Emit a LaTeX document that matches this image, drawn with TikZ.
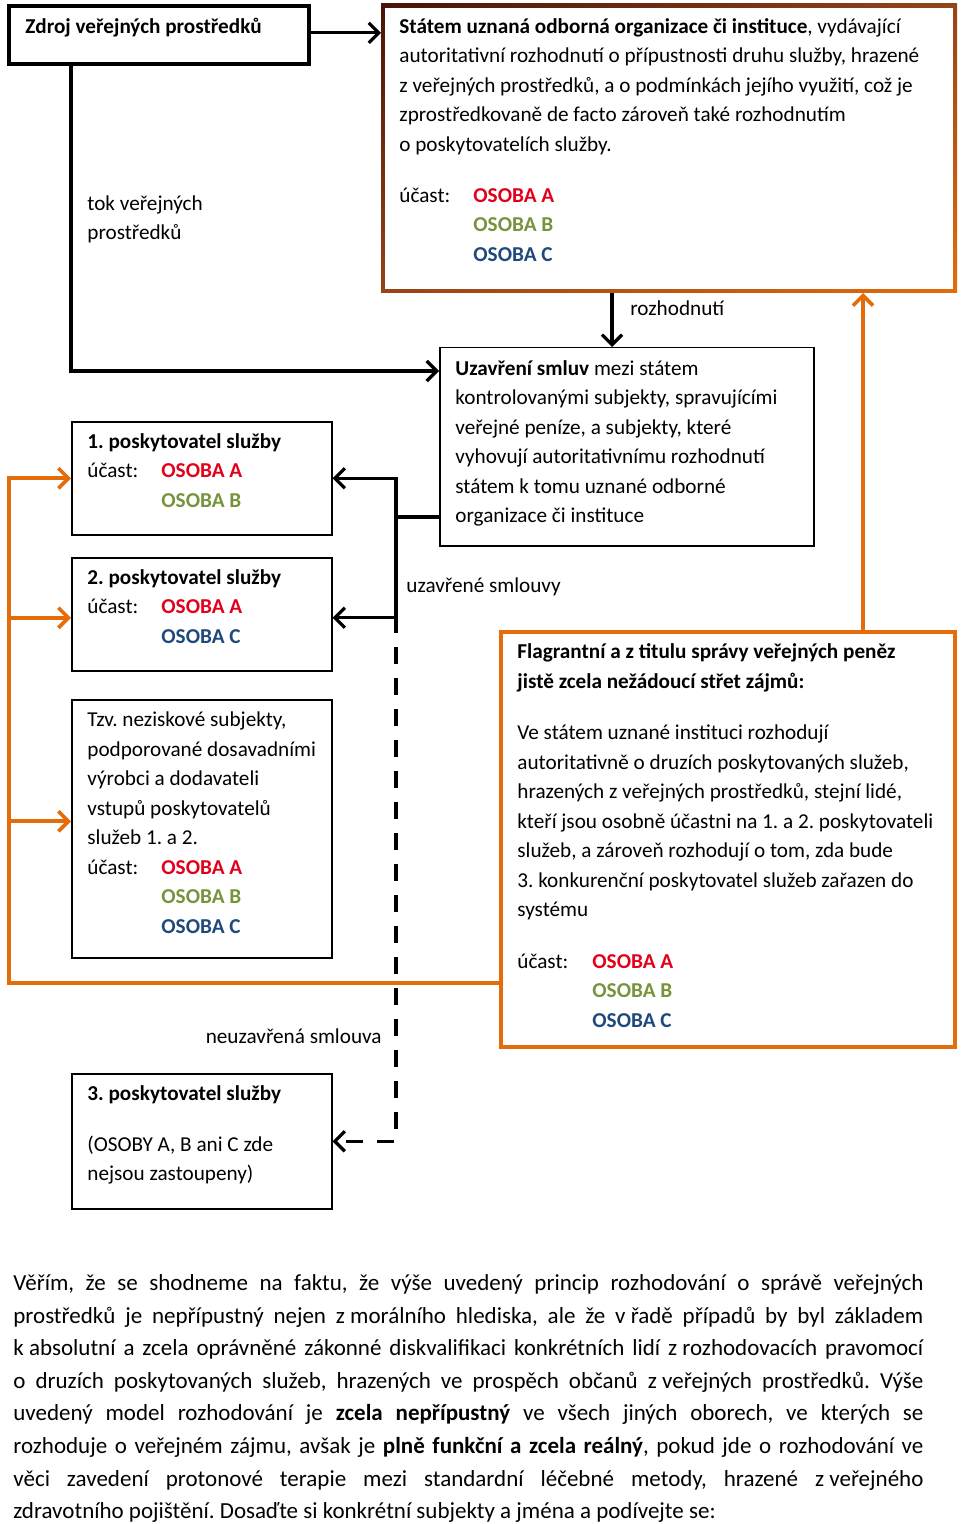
\documentclass[tikz,border=0pt]{standalone}
\usepackage{fontspec}
\setmainfont{Carlito}
\usetikzlibrary{arrows.meta, shadings}
\frenchspacing
\definecolor{osobaA}{RGB}{226,0,26}
\definecolor{osobaB}{RGB}{119,147,60}
\definecolor{osobaC}{RGB}{31,73,125}
\definecolor{orangeline}{RGB}{228,108,10}
\definecolor{authdark}{RGB}{70,20,8}
\definecolor{authmid}{RGB}{150,68,24}
\newcommand{\boxfont}{\fontsize{10.6pt}{14.75pt}\selectfont}
\newcommand{\parafont}{\fontsize{11.5pt}{16.3pt}\selectfont}
\newcommand{\osA}{\textcolor{osobaA}{\textbf{OSOBA A}}}
\newcommand{\osB}{\textcolor{osobaB}{\textbf{OSOBA B}}}
\newcommand{\osC}{\textcolor{osobaC}{\textbf{OSOBA C}}}
\newcommand{\ucast}{\makebox[37pt][l]{účast:}}
\newcommand{\ucastgap}{\hspace*{37pt}}
\newcommand{\paraline}[1]{\makebox[455pt][s]{#1}}
\newcommand{\fixsp}{\hspace{0.226em}}
\tikzset
    { box frame/.style =
        { draw, line width=0.75pt, inner sep=0pt, anchor=north west
        }
    , heavy frame/.style = {box frame, line width=1.8pt}
    , orange frame/.style = {box frame, draw=orangeline, line width=1.8pt}
    , blank frame/.style = {box frame, draw=none, line width=2pt}
    , txt/.style =
        { anchor=north west, inner sep=0pt, align=left, font=\boxfont
        }
    , open arrow/.style =
        { line width=1.6pt
        , -{Straight Barb[length=5pt, width=10pt]}
        }
    , bus/.style = {line width=1.6pt}
    , gap dashes/.style =
        { dash pattern=on 8.5pt off 7pt, dash phase=8.5pt
        }
    , orange line/.style = {draw=orangeline, line width=1.8pt}
    , orange arrow/.style = {open arrow, orange line}
    }

\begin{document}
\begin{tikzpicture}[x=0.5pt, y=-0.5pt]

            \useasboundingbox (0, 0) rectangle (960, 1524);

            \node[heavy frame, minimum width=150pt, minimum height=29pt] (zdroj) at (7, 4) {};
            \node[blank frame, minimum width=286pt, minimum height=142.5pt] (auth) at (381, 4) {};
            \shade[upper left=authdark, upper right=authmid, lower left=authmid, lower right=orangeline]
                (auth.north west) rectangle (auth.south east);
            \fill[white] ([shift={(4, 4)}]auth.north west) rectangle ([shift={(-4, -4)}]auth.south east);
            \node[box frame, minimum width=187pt, minimum height=99pt] (smlouvy) at (439, 347) {};
            \node[box frame, minimum width=130pt, minimum height=56.5pt] (prov1) at (71, 421) {};
            \node[box frame, minimum width=130pt, minimum height=56.5pt] (prov2) at (71, 557) {};
            \node[box frame, minimum width=130pt, minimum height=129pt] (nezisk) at (71, 699) {};
            \node[box frame, minimum width=130pt, minimum height=67.5pt] (prov3) at (71, 1073) {};
            \node[orange frame, minimum width=227pt, minimum height=207.5pt] (conflict) at (499, 630) {};

            \node[txt] (zdrojtxt) at (25, 12.35) {\strut\textbf{Zdroj veřejných prostředků}};
            \node[txt] (authtxt) at (399, 12.35)
                {\strut\textbf{Státem uznaná odborná organizace či instituce}, vydávající\\
                autoritativní rozhodnutí o přípustnosti druhu služby, hrazené\\
                z veřejných prostředků, a o podmínkách jejího využití, což je\\
                zprostředkovaně de facto zároveň také rozhodnutím\\
                o poskytovatelích služby.\\[10.75pt]
                \ucast\osA\\ \ucastgap\osB\\ \ucastgap\osC};
            \node[txt] (smlouvytxt) at (455, 354.35)
                {\strut\textbf{Uzavření smluv} mezi státem\\
                kontrolovanými subjekty, spravujícími\\
                veřejné peníze, a subjekty, které\\
                vyhovují autoritativnímu rozhodnutí\\
                státem k tomu uznané odborné\\
                organizace či instituce};
            \node[txt] (prov1txt) at (87, 427.35)
                {\strut\textbf{1. poskytovatel služby}\\ \ucast\osA\\ \ucastgap\osB};
            \node[txt] (prov2txt) at (87, 563.35)
                {\strut\textbf{2. poskytovatel služby}\\ \ucast\osA\\ \ucastgap\osC};
            \node[txt] (nezisktxt) at (87, 705.85)
                {\strut Tzv. neziskové subjekty,\\
                podporované dosavadními\\
                výrobci a dodavateli\\
                vstupů poskytovatelů\\
                služeb 1. a 2.\\
                \ucast\osA\\ \ucastgap\osB\\ \ucastgap\osC};
            \node[txt] (prov3txt) at (87, 1079.35)
                {\strut\textbf{3. poskytovatel služby}\\[10.75pt]
                (OSOBY A, B ani C zde\\
                nejsou zastoupeny)};
            \node[txt] (conflicttxt) at (517, 637.65)
                {\strut\textbf{Flagrantní a z titulu správy veřejných peněz}\\
                \textbf{jistě zcela nežádoucí střet zájmů:}\\[11pt]
                Ve státem uznané instituci rozhodují\\
                autoritativně o druzích poskytovaných služeb,\\
                hrazených z veřejných prostředků, stejní lidé,\\
                kteří jsou osobně účastni na 1. a 2. poskytovateli\\
                služeb, a zároveň rozhodují o tom, zda bude\\
                3. konkurenční poskytovatel služeb zařazen do\\
                systému\\[11pt]
                \makebox[37.5pt][l]{účast:}\osA\\ \hspace*{37.5pt}\osB\\ \hspace*{37.5pt}\osC};

            \coordinate (tokx) at (71, 0);
            \coordinate (tokrow) at (0, 371);
            \coordinate (rozhx) at (612, 0);
            \coordinate (backx) at (863, 0);
            \coordinate (busx) at (396, 0);
            \coordinate (busbot) at (396, 633);
            \coordinate (smstub) at (0, 517);
            \coordinate (oleft) at (9, 0);
            \coordinate (orow) at (0, 983);

            \draw[open arrow] ([yshift=1pt]zdroj.east) -- ([yshift=1pt]zdroj.east -| auth.west);
            \draw[open arrow] (zdroj.south -| tokx) |- (smlouvy.west |- tokrow);
            \node[txt] (toklabel) at (87, 189.35) {\strut tok veřejných\\ prostředků};
            \draw[open arrow] (auth.south -| rozhx) -- (smlouvy.north -| rozhx);
            \node[txt, anchor=base west] (rozhlabel) at (630, 315) {rozhodnutí};

            \draw[orange arrow] (conflict.north -| backx) -- (auth.south -| backx);
            \draw[orange arrow] (conflict.west |- orow) -| (oleft |- prov1.west) -- (prov1.west);
            \draw[orange arrow] (oleft |- prov2.west) ++(0, 3.5) -- ([yshift=-1.75pt]prov2.west);
            \draw[orange arrow] (oleft |- nezisk.west) ++(0, -7.5) -- ([yshift=3.75pt]nezisk.west);

            \draw[bus] (smlouvy.west |- smstub) -- (busx |- smstub);
            \draw[open arrow] (busbot) |- (prov1.east);
            \draw[open arrow] (busx |- prov2.east) ++(0, 3.5) -- ([yshift=-1.75pt]prov2.east);
            \draw[open arrow, gap dashes] (busbot) |- (prov3.east);
            \node[txt, anchor=base west] (uzavlabel) at (406, 592) {uzavřené smlouvy};
            \node[txt, anchor=base east] (neuzavlabel) at (382, 1043) {neuzavřená smlouva};

            \node[anchor=north west, inner sep=0pt, align=left, font=\parafont] (para) at (13, 1267.2)
                {\strut\paraline{Věřím, že se shodneme na faktu, že výše uvedený princip rozhodování o správě veřejných}\\
                \paraline{prostředků je nepřípustný nejen z\fixsp morálního hlediska, ale že v\fixsp řadě případů by byl základem}\\
                \paraline{k\fixsp absolutní a zcela oprávněné zákonné diskvalifikaci konkrétních lidí z\fixsp rozhodovacích pravomocí}\\
                \paraline{o druzích poskytovaných služeb, hrazených ve prospěch občanů z\fixsp veřejných prostředků. Výše}\\
                \paraline{uvedený model rozhodování je \textbf{zcela nepřípustný} ve všech jiných oborech, ve kterých se}\\
                \paraline{rozhoduje o veřejném zájmu, avšak je \textbf{plně funkční a zcela reálný}, pokud jde o rozhodování ve}\\
                \paraline{věci zavedení protonové terapie mezi standardní léčebné metody, hrazené z\fixsp veřejného}\\
                zdravotního pojištění. Dosaďte si konkrétní subjekty a jména a podívejte se:};

        \end{tikzpicture}
\end{document}
